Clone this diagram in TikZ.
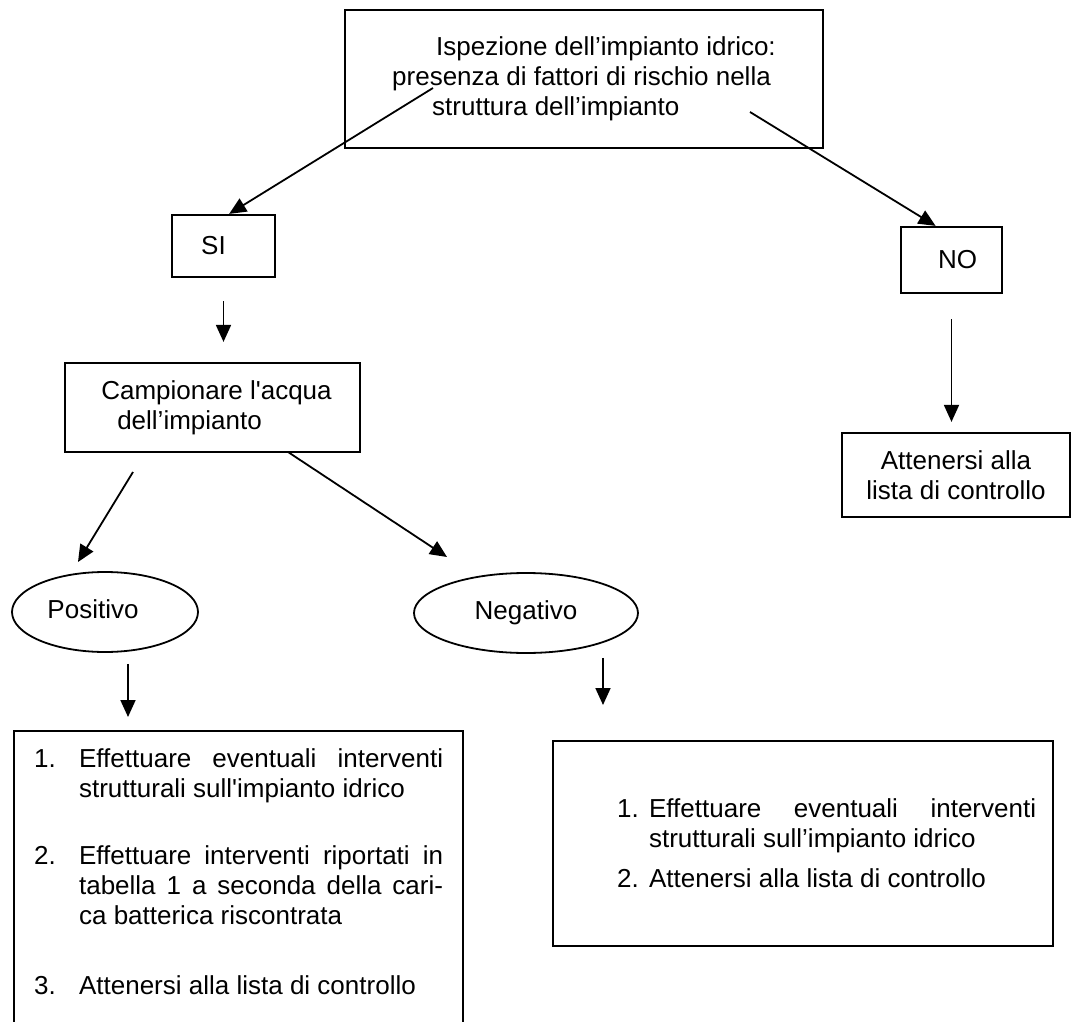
\documentclass[tikz,border=0pt]{standalone}
\usepackage{fontspec}
\setmainfont{Liberation Sans}
\usetikzlibrary{shapes.geometric,arrows.meta}

\tikzset{
  box/.style={draw, line width=1.1pt, align=center, inner sep=0pt,
    font=\fontsize{13}{15}\selectfont},
  listbox/.style={draw, line width=1.1pt, inner sep=0pt,
    font=\fontsize{13}{15}\selectfont},
  ovale/.style={draw, ellipse, line width=0.9pt, inner sep=0pt,
    text height=9.4pt, text depth=2.6pt, font=\fontsize{13}{15}\selectfont},
  freccia/.style={line width=0.9pt, -{Triangle[length=8.5pt,width=7.5pt]}},
}

% numbered item with hanging indent
\newcommand{\voce}[3]{\noindent\hangindent=#1\hangafter=1\makebox[#1][l]{#2}#3\par}

\begin{document}
\begin{tikzpicture}[x=0.5pt, y=-0.5pt]
  \useasboundingbox (0,0) rectangle (1072,1022);

  \node[box, align=left, minimum width=239pt, minimum height=69pt] (ispezione) at (584,79)
    {\hspace*{22pt}Ispezione dell’impianto idrico:\\ presenza di fattori di rischio nella\\ \hspace*{20pt}struttura dell’impianto};

  \node[box, minimum width=51.5pt, minimum height=31pt] (si) at (223.5,246) {SI\hspace*{10pt}};
  \node[box, minimum width=50.5pt, minimum height=33pt] (no) at (951.5,260) {\hspace*{6pt}NO};

  \node[box, align=left, minimum width=147.5pt, minimum height=44.5pt] (camp) at (212.5,407.5)
    {\hspace*{4pt}Campionare l\textquotesingle acqua\\ \hspace*{12pt}dell’impianto};
  \node[box, minimum width=114pt, minimum height=42pt] (lista) at (956,475)
    {Attenersi alla\\ lista di controllo};

  \node[ovale, minimum width=93pt, minimum height=40pt] (pos) at (105,612) {Positivo\hspace*{12pt}};
  \node[ovale, minimum width=112pt, minimum height=40pt] (neg) at (526,613) {Negativo};

  \node[listbox, anchor=north west] (azpos) at (13,730)
    {\parbox[t][155pt][t]{224.5pt}{\leftskip=10pt \rightskip=10pt \parskip=0pt
      \vspace*{9pt}
      \voce{22.5pt}{1.}{Effettuare eventuali interventi\linebreak strutturali sull\textquotesingle impianto idrico}
      \vspace{18.5pt}
      \voce{22.5pt}{2.}{Effettuare interventi riportati in\linebreak tabella 1 a seconda della cari-\linebreak ca batterica riscontrata}
      \vspace{20pt}
      \voce{22.5pt}{3.}{Attenersi alla lista di controllo}}};

  \node[listbox, anchor=north west] (azneg) at (552,740)
    {\parbox[t][102.5pt][t]{250pt}{\leftskip=32pt \rightskip=8.5pt \parskip=0pt
      \vspace*{29pt}
      \voce{16pt}{1.}{Effettuare eventuali interventi\linebreak strutturali sull’impianto idrico}
      \vspace{5pt}
      \voce{16pt}{2.}{Attenersi alla lista di controllo}}};

  % free ends of the arrows
  \coordinate (da-si) at (433,88);
  \coordinate (da-no) at (750,112);
  \coordinate (camp-sx) at (133,472);
  \coordinate (verso-pos) at (78,562);
  \coordinate (camp-dx) at (288,452);
  \coordinate (verso-neg) at (447,557);

  \draw[freccia] (da-si) -- (si.80);
  \draw[freccia] (da-no) -- (no.115);
  \draw[freccia, shorten <=11.5pt, shorten >=10pt] (si.south) -- (si.south |- camp.north);
  \draw[freccia, shorten <=12.5pt, shorten >=5pt] (no.south) -- (no.south |- lista.north);
  \draw[freccia] (camp-sx) -- (verso-pos);
  \draw[freccia] (camp-dx) -- (verso-neg);
  \draw[freccia, shorten <=5.5pt, shorten >=6.5pt] ([xshift=11.5pt]pos.south) -- ([xshift=11.5pt]pos.south |- azpos.north);
  \draw[freccia, shorten <=2pt, shorten >=17.5pt] ([xshift=38.5pt]neg.south) -- ([xshift=38.5pt]neg.south |- azneg.north);
\end{tikzpicture}
\end{document}
